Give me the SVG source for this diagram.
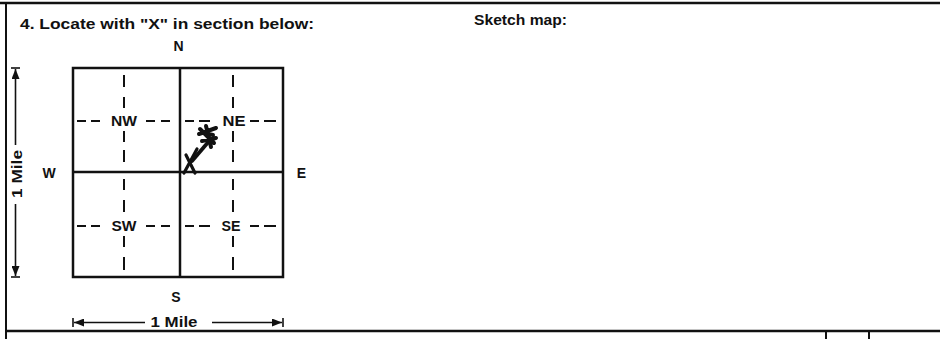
<svg xmlns="http://www.w3.org/2000/svg" width="940" height="339" viewBox="0 0 940 339">
<style>
text{font-family:"Liberation Sans",Arial,sans-serif;font-weight:bold;fill:#111}
.lbl{font-size:14px;text-anchor:middle}
.frame{stroke:#111;fill:none}
.dash{stroke:#111;stroke-width:2;fill:none}
.arr{stroke:#111;stroke-width:1.6;fill:none}
</style>
<defs>
<marker id="ah" viewBox="0 0 10 8" refX="10" refY="4" markerWidth="10" markerHeight="8" markerUnits="userSpaceOnUse" orient="auto">
<path d="M0,0 L10,4 L0,8 z" fill="#111"/>
</marker>
</defs>
<rect width="940" height="339" fill="#fff"/>
<g id="form-frame">
<line class="frame" x1="0" y1="3" x2="940" y2="3" stroke-width="2.5"/>
<line class="frame" x1="6" y1="3" x2="6" y2="339" stroke-width="2"/>
<line class="frame" x1="6" y1="331" x2="940" y2="331" stroke-width="2.5"/>
<line class="frame" x1="826" y1="331" x2="826" y2="339" stroke-width="2"/>
<line class="frame" x1="869" y1="331" x2="869" y2="339" stroke-width="2"/>
</g>
<g id="headings">
<text x="20" y="29" font-size="14" textLength="294" lengthAdjust="spacingAndGlyphs">4. Locate with "X" in section below:</text>
<text x="474" y="25" font-size="14" textLength="93" lengthAdjust="spacingAndGlyphs">Sketch map:</text>
</g>
<g id="section-grid">
<rect class="frame" x="73" y="68" width="210" height="209" stroke-width="2.5"/>
<line class="frame" x1="180" y1="68" x2="180" y2="277" stroke-width="2.5"/>
<line class="frame" x1="73" y1="172" x2="283" y2="172" stroke-width="2.5"/>
<path class="dash" d="M77,121 H86 M91,121 H100 M146,121 H155 M161,121 H170 M185,121 H194 M199,121 H210 M250,121 H259 M264,121 H276"/>
<path class="dash" d="M77,226 H86 M91,226 H100 M146,226 H155 M161,226 H170 M185,226 H194 M199,226 H210 M250,226 H259 M264,226 H276"/>
<path class="dash" d="M124,75 V87 M124,97 V108 M124,131 V142 M124,150 V162 M124,179 V190 M124,200 V212 M124,236 V247 M124,257 V270"/>
<path class="dash" d="M233,75 V87 M233,97 V108 M233,131 V142 M233,150 V162 M233,179 V190 M233,200 V212 M233,236 V247 M233,257 V270"/>
</g>
<g id="quadrant-labels">
<text class="lbl" x="124" y="125.5" textLength="26" lengthAdjust="spacingAndGlyphs">NW</text>
<text class="lbl" x="234" y="125.5" textLength="23" lengthAdjust="spacingAndGlyphs">NE</text>
<text class="lbl" x="124" y="230.5" textLength="25" lengthAdjust="spacingAndGlyphs">SW</text>
<text class="lbl" x="231" y="230.5" textLength="19" lengthAdjust="spacingAndGlyphs">SE</text>
</g>
<g id="compass">
<text class="lbl" x="178.5" y="50.5">N</text>
<text class="lbl" x="49" y="178">W</text>
<text class="lbl" x="301.5" y="178">E</text>
<text class="lbl" x="176" y="302">S</text>
</g>
<g id="location-mark" stroke="#111" fill="none" stroke-linecap="round" stroke-linejoin="round">
<path d="M184,173 L197,149" stroke-width="3.2"/>
<path d="M186,155 L195,173" stroke-width="3.2"/>
<path d="M192,161 L210,140" stroke-width="3.8"/>
<path d="M199,134 L216,128 M202,141 L216,138 M206,126 L211,147 M200,129 L214,143 M204,133 L213,135" stroke-width="4"/>
</g>
<g id="connectors">
<line class="arr" x1="73" y1="318" x2="73" y2="327"/>
<line class="arr" x1="145" y1="322.5" x2="74" y2="322.5" marker-end="url(#ah)"/>
<line class="arr" x1="283" y1="318" x2="283" y2="327"/>
<line class="arr" x1="212" y1="322.5" x2="282" y2="322.5" marker-end="url(#ah)"/>
<line class="arr" x1="11" y1="68" x2="20" y2="68"/>
<line class="arr" x1="15.5" y1="145" x2="15.5" y2="69" marker-end="url(#ah)"/>
<line class="arr" x1="11" y1="277" x2="20" y2="277"/>
<line class="arr" x1="15.5" y1="204" x2="15.5" y2="276" marker-end="url(#ah)"/>
</g>
<g id="scale-labels">
<text class="lbl" x="174" y="327" textLength="47" lengthAdjust="spacingAndGlyphs">1 Mile</text>
<text class="lbl" transform="translate(22,174) rotate(-90)" textLength="48" lengthAdjust="spacingAndGlyphs">1 Mile</text>
</g>
</svg>
